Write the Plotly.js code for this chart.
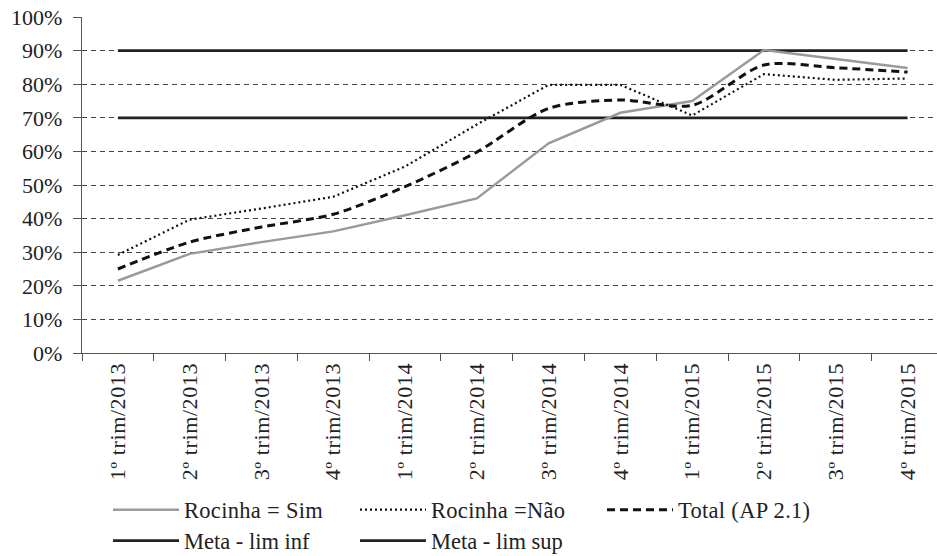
<!DOCTYPE html>
<html>
<head>
<meta charset="utf-8">
<script src="https://cdn.plot.ly/plotly-3.0.1.min.js"></script>
<style>html,body{margin:0;padding:0;background:#fff;}#chart{width:937px;height:556px;}
.xtick text{letter-spacing:0.6px;}
.legend text{letter-spacing:0.3px;}
</style>
</head>
<body>
<div id="chart"></div>
<script>
const categories = ["1º trim/2013","2º trim/2013","3º trim/2013","4º trim/2013","1º trim/2014","2º trim/2014","3º trim/2014","4º trim/2014","1º trim/2015","2º trim/2015","3º trim/2015","4º trim/2015"];
const rocinhaSim = [0.215, 0.295, 0.33, 0.362, 0.41, 0.46, 0.624, 0.715, 0.75, 0.902, 0.875, 0.848];
const rocinhaNao = [0.292, 0.397, 0.43, 0.465, 0.555, 0.68, 0.798, 0.798, 0.707, 0.83, 0.813, 0.817];
const totalAP21 = [0.25, 0.33, 0.375, 0.413, 0.495, 0.598, 0.728, 0.753, 0.737, 0.857, 0.849, 0.836];
const metaLimInf = [0.7, 0.7, 0.7, 0.7, 0.7, 0.7, 0.7, 0.7, 0.7, 0.7, 0.7, 0.7];
const metaLimSup = [0.9, 0.9, 0.9, 0.9, 0.9, 0.9, 0.9, 0.9, 0.9, 0.9, 0.9, 0.9];

const FONT = "'Liberation Serif', 'Times New Roman', 'DejaVu Serif', serif";
const traces = [
  {x: categories, y: metaLimInf, name: "Meta - lim inf", type: "scatter", mode: "lines", line: {color: "#222", width: 2.8}, legend: "legend2"},
  {x: categories, y: metaLimSup, name: "Meta - lim sup", type: "scatter", mode: "lines", line: {color: "#222", width: 2.8}, legend: "legend2"},
  {x: categories, y: rocinhaSim, name: "Rocinha = Sim", type: "scatter", mode: "lines", line: {color: "#9a9a9a", width: 2.5}, legend: "legend"},
  {x: categories, y: rocinhaNao, name: "Rocinha =Não", type: "scatter", mode: "lines", line: {color: "#111", width: 2.2, dash: "2px,3px"}, legend: "legend"},
  {x: categories, y: totalAP21, name: "Total (AP 2.1)", type: "scatter", mode: "lines", line: {color: "#111", width: 3, dash: "8px,5px", shape: "spline", smoothing: 0.8}, legend: "legend"}
];

const legendCommon = {
  orientation: "h", xref: "container", yref: "container",
  xanchor: "left", yanchor: "middle",
  font: {family: FONT, size: 22.5, color: "#222"},
  bgcolor: "rgba(0,0,0,0)", entrywidth: 166, entrywidthmode: "pixels",
  traceorder: "normal", itemwidth: 66
};

const layout = {
  width: 937, height: 556,
  margin: {l: 82, r: 0, t: 17, b: 203},
  paper_bgcolor: "#fff", plot_bgcolor: "#fff",
  font: {family: FONT, size: 22, color: "#222"},
  showlegend: true,
  xaxis: {
    type: "category",
    range: [-0.5, 11.41],
    tickson: "boundaries",
    ticks: "outside", ticklen: 7, tickcolor: "#555", tickwidth: 1,
    showline: true, linecolor: "#555", linewidth: 1.2,
    showgrid: false, zeroline: false,
    tickangle: -90,
    tickfont: {family: FONT, size: 22, color: "#222"},
    fixedrange: true
  },
  yaxis: {
    range: [0, 1],
    tickvals: [0, 0.1, 0.2, 0.3, 0.4, 0.5, 0.6, 0.7, 0.8, 0.9, 1.0],
    tickformat: ".0%",
    ticks: "outside", ticklen: 8, tickcolor: "#555", tickwidth: 1,
    ticklabelstandoff: 6,
    showline: true, linecolor: "#555", linewidth: 1.2,
    showgrid: true, gridcolor: "#444", gridwidth: 1, griddash: "5px,4px",
    zeroline: false,
    tickfont: {family: FONT, size: 22, color: "#222"},
    fixedrange: true
  },
  legend: Object.assign({}, legendCommon, {x: 108/937, y: 1 - 510/556}),
  legend2: Object.assign({}, legendCommon, {x: 108/937, y: 1 - 541/556})
};

Plotly.newPlot("chart", traces, layout, {displayModeBar: false, staticPlot: true});
</script>
</body>
</html>
